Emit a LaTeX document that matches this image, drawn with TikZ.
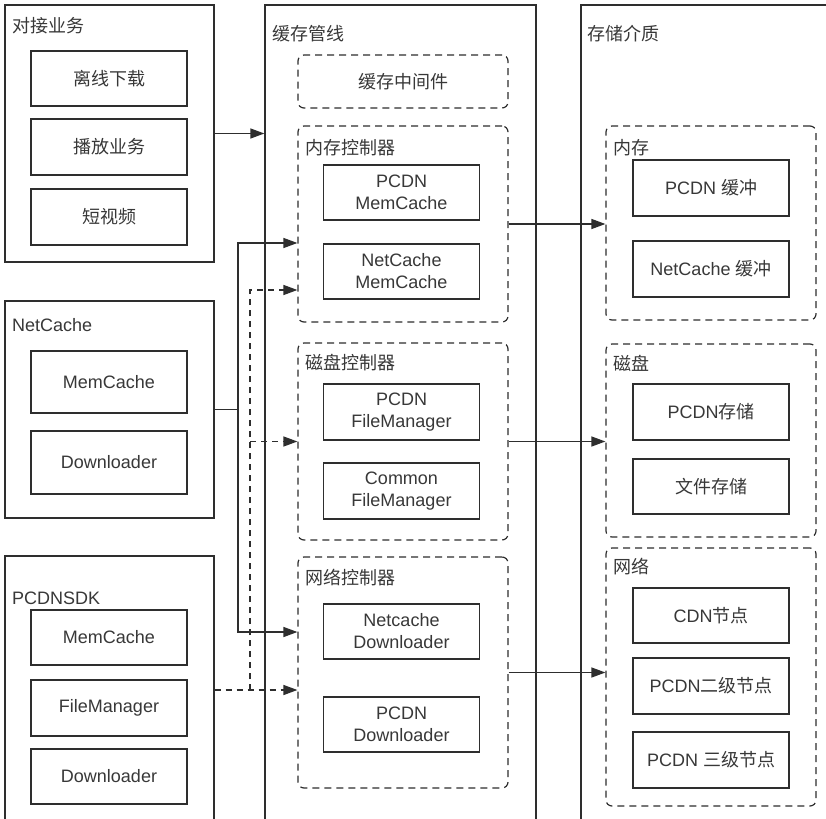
\documentclass[tikz,border=0pt]{standalone}
\usepackage{fontspec}
\setmainfont{Liberation Sans}
\newfontfamily\cjk{Noto Sans CJK SC}
\usetikzlibrary{arrows.meta,positioning,calc}
\definecolor{ink}{HTML}{2E2E2E}
\definecolor{txt}{HTML}{383838}

\tikzset{
  outerbox/.style={draw=ink, line width=1.3pt, inner sep=0pt},
  ctlbox/.style={draw=ink, line width=1.2pt, dash pattern=on 7pt off 5pt, rounded corners=6pt, inner sep=0pt, minimum width=210pt},
  itembox/.style={draw=ink, line width=1.3pt, align=center, text=txt, minimum width=156pt, minimum height=55pt, inner sep=0pt},
  boxtitle/.style={anchor=west, inner sep=0pt, text=txt},
  arr/.style={draw=ink, line width=1.3pt, -{Triangle[length=14pt,width=10pt]}},
  darr/.style={arr, dash pattern=on 6pt off 5pt}
}

\begin{document}
\begin{tikzpicture}[x=1pt, y=-1pt, font=\fontsize{18pt}{22pt}\selectfont]
  \useasboundingbox[fill=white] (0,0) rectangle (826,818);
  \clip (0,0) rectangle (826,818);

  % Left column: business side
  \node[outerbox, minimum width=209pt, minimum height=257pt] (ywb) at (109.5,133.5) {};
  \node[boxtitle] (ywbt) at (12,26) {\cjk 对接业务};
  \node[itembox] (lxxz) at (109,78.5) {\cjk 离线下载};
  \node[itembox, minimum height=56pt] (bfyw) at (109,147) {\cjk 播放业务};
  \node[itembox, minimum height=56pt] (dsp) at (109,217) {\cjk 短视频};

  \node[outerbox, minimum width=209pt, minimum height=217pt] (nc) at (109.5,409.5) {};
  \node[boxtitle] (nct) at (12,325) {NetCache};
  \node[itembox, minimum height=62pt] (ncmem) at (109,382) {MemCache};
  \node[itembox, minimum height=63pt] (ncdl) at (109,462.5) {Downloader};

  \node[outerbox, minimum width=209pt, minimum height=268pt] (sdk) at (109.5,690) {};
  \node[boxtitle] (sdkt) at (12,598) {PCDNSDK};
  \node[itembox] (sdkmem) at (109,637.5) {MemCache};
  \node[itembox, minimum height=56pt] (sdkfm) at (109,708) {FileManager};
  \node[itembox] (sdkdl) at (109,776.5) {Downloader};

  % Middle column: cache pipeline
  \node[outerbox, minimum width=271pt, minimum height=825pt] (gxgx) at (400.5,417.5) {};
  \node[boxtitle] (gxgxt) at (272,34) {\cjk 缓存管线};
  \node[ctlbox, minimum height=53pt, text=txt] (hczj) at (403,81.5) {\cjk 缓存中间件};

  \node[ctlbox, minimum height=196pt] (nckz) at (403,224) {};
  \node[boxtitle] (nckzt) at (305,148) {\cjk 内存控制器};
  \node[itembox] (pmem) at (401.5,192.5) {PCDN\\MemCache};
  \node[itembox] (nmem) at (401.5,271.5) {NetCache\\MemCache};

  \node[ctlbox, minimum height=197pt] (ckkz) at (403,441.5) {};
  \node[boxtitle] (ckkzt) at (305,363) {\cjk 磁盘控制器};
  \node[itembox, minimum height=56pt] (pfm) at (401.5,412) {PCDN\\FileManager};
  \node[itembox, minimum height=56pt] (cfm) at (401.5,491) {Common\\FileManager};

  \node[ctlbox, minimum height=231pt] (wlkz) at (403,672.5) {};
  \node[boxtitle] (wlkzt) at (305,578) {\cjk 网络控制器};
  \node[itembox] (ndl) at (401.5,631.5) {Netcache\\Downloader};
  \node[itembox] (pdl) at (401.5,724.5) {PCDN\\Downloader};

  % Right column: storage media
  \node[outerbox, minimum width=259pt, minimum height=825pt] (ccjz) at (710.5,417.5) {};
  \node[boxtitle] (ccjzt) at (587,34) {\cjk 存储介质};

  \node[ctlbox, minimum height=194pt] (nc2) at (711,223) {};
  \node[boxtitle] (nc2t) at (613,148) {\cjk 内存};
  \node[itembox, minimum height=56pt] (pbuf) at (711,188) {PCDN {\cjk 缓冲}};
  \node[itembox, minimum height=56pt] (nbuf) at (711,269) {NetCache {\cjk 缓冲}};

  \node[ctlbox, minimum height=193pt] (cp) at (711,440.5) {};
  \node[boxtitle] (cpt) at (613,363) {\cjk 磁盘};
  \node[itembox, minimum height=56pt] (pst) at (711,412) {PCDN{\cjk 存储}};
  \node[itembox] (fst) at (711,486.5) {\cjk 文件存储};

  \node[ctlbox, minimum height=258pt] (wl) at (711,677) {};
  \node[boxtitle] (wlt) at (613,567) {\cjk 网络};
  \node[itembox] (cdn) at (711,615.5) {CDN{\cjk 节点}};
  \node[itembox, minimum height=56pt] (p2) at (711,686) {PCDN{\cjk 二级节点}};
  \node[itembox, minimum height=56pt] (p3) at (711,760) {PCDN {\cjk 三级节点}};

  % bus lines
  \coordinate (nbus) at (238,0);
  \coordinate (pbus) at (250,0);

  % connectors
  \draw[arr] (ywb.east) -- (ywb.east -| gxgx.west);

  \draw[draw=ink, line width=1.3pt] (nc.east) -- (nc.east -| nbus);
  \draw[arr] (nc.east -| nbus) |- ([yshift=-19pt]nckz.west);
  \draw[arr] (nc.east -| nbus) |- ([yshift=40.5pt]wlkz.west);

  \draw[darr] (sdk.east) -- (sdk.east -| wlkz.west);
  \draw[darr] (sdk.east -| pbus) |- ([yshift=-66pt]nckz.west);
  \draw[darr] (ckkz.west -| pbus) -- (ckkz.west);

  \draw[arr] (nckz.east) -- (nckz.east -| nc2.west);
  \draw[arr] (ckkz.east) -- (ckkz.east -| cp.west);
  \draw[arr] (wlkz.east) -- (wlkz.east -| wl.west);
\end{tikzpicture}
\end{document}
